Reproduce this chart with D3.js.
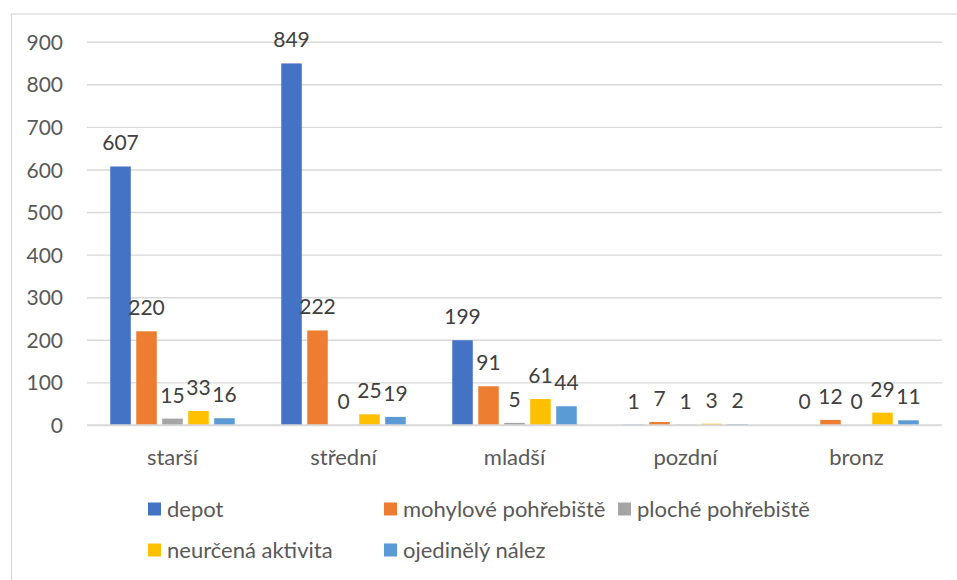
<!DOCTYPE html>
<html>
<head>
<meta charset="utf-8">
<script src="https://cdn.jsdelivr.net/npm/d3@7"></script>
<style>
    body { margin: 0; background: #fff; }
    svg text { font-family: Lato, "Open Sans", sans-serif; }
</style>
</head>
<body>
<div id="chart"></div>
<script>
// chart data
const categories = ["starší", "střední", "mladší", "pozdní", "bronz"];
const seriesNames = ["depot", "mohylové pohřebiště", "ploché pohřebiště", "neurčená aktivita", "ojedinělý nález"];
const seriesColors = ["#4472C4", "#ED7D31", "#A5A5A5", "#FFC000", "#5B9BD5"];
const depot = [607, 849, 199, 1, 0];
const mohylove = [220, 222, 91, 7, 12];
const ploche = [15, 0, 5, 1, 0];
const neurcena = [33, 25, 61, 3, 29];
const ojedinely = [16, 19, 44, 2, 11];
const yTicks = [0, 100, 200, 300, 400, 500, 600, 700, 800, 900];

const seriesValues = [depot, mohylove, ploche, neurcena, ojedinely];

// set the dimensions and margins of the graph
const width = 957, height = 580;
const plot = { left: 87, right: 942, top: 41.7, bottom: 425 };

const svg = d3.select("#chart")
    .append("svg")
    .attr("width", width)
    .attr("height", height);

// chart border (cropped on the right and bottom like the original)
svg.append("rect")
    .attr("x", 11.5)
    .attr("y", 14)
    .attr("width", 960)
    .attr("height", 600)
    .attr("fill", "none")
    .attr("stroke", "#d9d9d9")
    .attr("stroke-width", 1.3);

// scales
const x0 = d3.scaleBand(categories, [plot.left, plot.right])
    .paddingInner(0.24)
    .paddingOuter(0.12);
const x1 = d3.scaleBand(d3.range(seriesNames.length), [0, x0.bandwidth()])
    .paddingInner(0.21)
    .paddingOuter(0.105);
const yScale = d3.scaleLinear([0, 900], [plot.bottom, plot.top]);

// gridlines + y labels
const yAxis = svg.append("g")
    .attr("transform", `translate(${plot.left},0)`)
    .call(d3.axisLeft(yScale)
        .tickValues(yTicks)
        .tickSize(-(plot.right - plot.left))
        .tickPadding(24));
yAxis.select(".domain").remove();
yAxis.selectAll(".tick line")
    .attr("stroke", "#d9d9d9")
    .attr("stroke-width", 1.4);
yAxis.selectAll(".tick text")
    .attr("fill", "#595959")
    .attr("font-size", 21)
    .attr("dy", "0.36em");

// category labels
const xAxis = svg.append("g")
    .attr("transform", `translate(0,${plot.bottom})`)
    .call(d3.axisBottom(x0).tickSize(0).tickPadding(0));
xAxis.select(".domain").remove();
xAxis.selectAll(".tick text")
    .attr("fill", "#595959")
    .attr("font-size", 22)
    .attr("dy", 0)
    .attr("y", 40);

// bars
const rows = [];
categories.forEach((c, i) => {
    seriesValues.forEach((vals, s) => rows.push({ cat: c, s: s, value: vals[i] }));
});

svg.append("g")
    .selectAll("rect")
    .data(rows)
    .join("rect")
    .attr("x", d => x0(d.cat) + x1(d.s))
    .attr("y", d => yScale(d.value))
    .attr("width", x1.bandwidth())
    .attr("height", d => yScale(0) - yScale(d.value))
    .attr("fill", d => seriesColors[d.s]);

// value labels
svg.append("g")
    .selectAll("text")
    .data(rows)
    .join("text")
    .attr("x", d => x0(d.cat) + x1(d.s) + x1.bandwidth() / 2)
    .attr("y", d => yScale(d.value) - 16)
    .attr("text-anchor", "middle")
    .attr("fill", "#404040")
    .attr("font-size", 21)
    .text(d => d.value);

// zero line on top of the bars' base
svg.append("line")
    .attr("x1", plot.left)
    .attr("x2", plot.right)
    .attr("y1", yScale(0))
    .attr("y2", yScale(0))
    .attr("stroke", "#d9d9d9")
    .attr("stroke-width", 1.4);

// legend, laid out in two rows like Excel does
const legendX = [148, 384, 618, 148, 384];
const legendY = [509, 509, 509, 550, 550];
const legend = svg.append("g")
    .selectAll("g")
    .data(seriesNames)
    .join("g")
    .attr("transform", (_, i) => `translate(${legendX[i]},${legendY[i]})`);
legend.append("rect")
    .attr("x", 0)
    .attr("y", -6.5)
    .attr("width", 13)
    .attr("height", 13)
    .attr("fill", (_, i) => seriesColors[i]);
legend.append("text")
    .attr("x", 19)
    .attr("y", 8)
    .attr("fill", "#595959")
    .attr("font-size", 22)
    .text(d => d);
</script>
</body>
</html>
